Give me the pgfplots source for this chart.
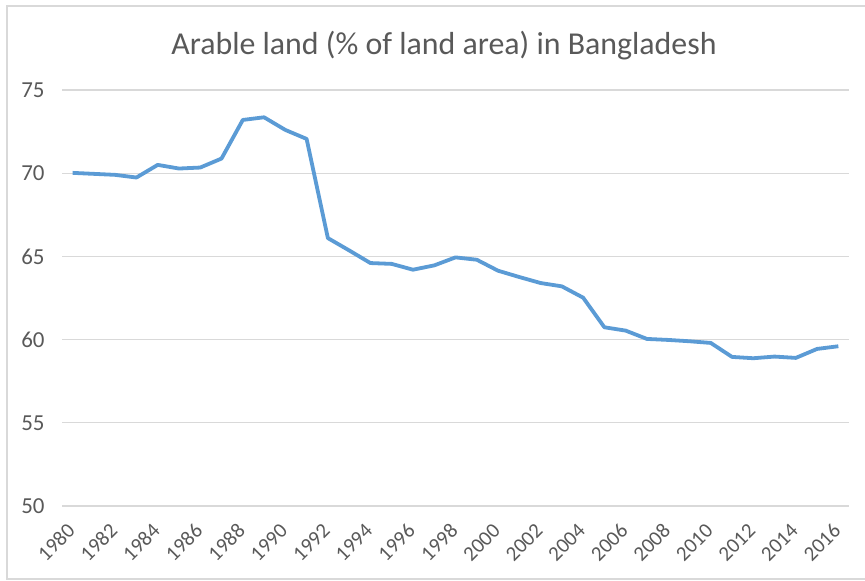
\documentclass[border=0pt]{standalone}
\usepackage{fontspec}
\setmainfont{Carlito}
\usepackage{pgfplots}
\pgfplotsset{compat=1.18}
\definecolor{lineblue}{HTML}{5B9BD5}
\definecolor{txtgray}{HTML}{595959}
\definecolor{gridgray}{HTML}{D9D9D9}
\definecolor{framegray}{HTML}{D9D9D9}

\pgfplotstableread{
year value
1980 70.02
1981 69.96
1982 69.90
1983 69.74
1984 70.50
1985 70.28
1986 70.34
1987 70.88
1988 73.20
1989 73.36
1990 72.60
1991 72.06
1992 66.10
1993 65.36
1994 64.60
1995 64.55
1996 64.20
1997 64.46
1998 64.94
1999 64.80
2000 64.14
2001 63.76
2002 63.40
2003 63.20
2004 62.52
2005 60.74
2006 60.54
2007 60.04
2008 59.98
2009 59.90
2010 59.80
2011 58.96
2012 58.88
2013 58.98
2014 58.90
2015 59.44
2016 59.60
}\arable

\begin{document}
\begin{tikzpicture}
\useasboundingbox (0bp,0bp) rectangle (865bp,581bp);
\clip (0bp,0bp) rectangle (865bp,581bp);
% chart area frame (cut off on the right in the reference)
\draw[framegray, line width=1.4bp] (7bp,2bp) rectangle (880bp,575bp);
\node[txtgray, font=\fontsize{32}{36}\selectfont] at (444bp,535bp) {Arable land (\% of land area) in Bangladesh};
\begin{axis}[
  at={(62bp,75bp)}, anchor=south west,
  scale only axis, width=787bp, height=416bp,
  xmin=1979.5, xmax=2016.5, ymin=50, ymax=75,
  xtick={1980,1982,...,2016},
  ytick={50,55,...,75},
  axis line style={draw=none},
  major tick length=0pt,
  ymajorgrids, grid style={gridgray, line width=1.3bp},
  /pgf/number format/assume math mode=true,
  /pgf/number format/set thousands separator={},
  tick label style={txtgray},
  yticklabel style={font=\fontsize{23}{26}\selectfont, xshift=-14bp},
  xticklabel style={font=\fontsize{21}{24}\selectfont, yshift=-19bp, xshift=1bp, rotate=45, anchor=east},
  clip=false,
]
\addplot[lineblue, line width=3.8bp, line join=round] table[x=year, y=value] {\arable};
\end{axis}
\end{tikzpicture}
\end{document}
